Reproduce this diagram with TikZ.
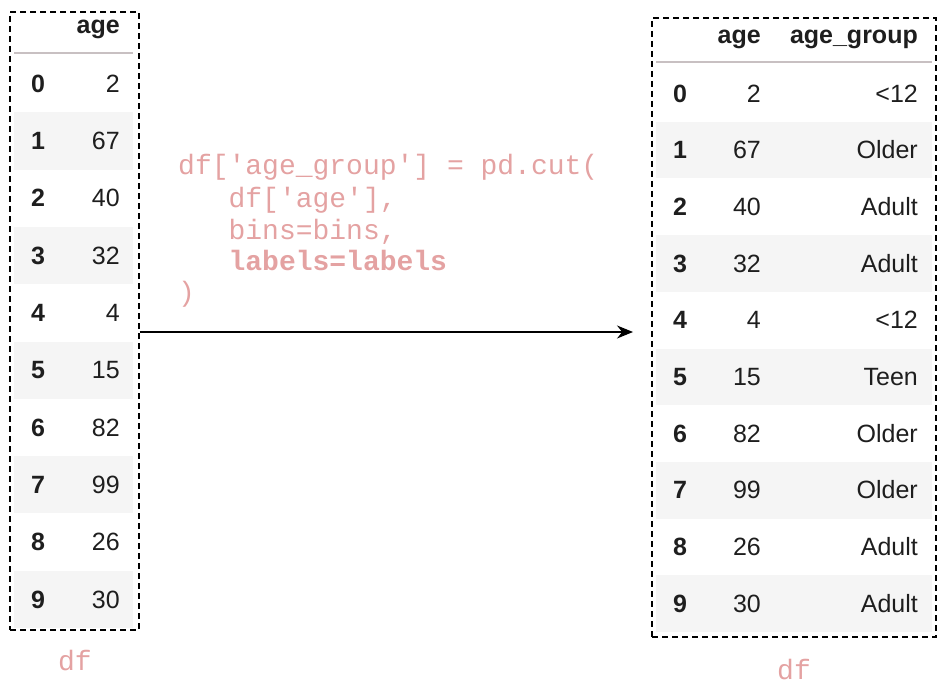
\documentclass[tikz,border=0pt]{standalone}
\usepackage{fontspec}
\usetikzlibrary{arrows.meta}
\newfontfamily\tabfont{Liberation Sans}
\newfontfamily\codefont{Liberation Mono}
\definecolor{codepink}{RGB}{228,162,162}
\definecolor{txt}{RGB}{30,30,30}
\definecolor{rowshade}{RGB}{245,245,245}
\definecolor{rulegray}{RGB}{200,192,194}
\tikzset{
  dbox/.style={draw=black, line width=1.6pt, dash pattern=on 6pt off 4pt, inner sep=0pt, fill=none},
  rowfill/.style={fill=rowshade, draw=none},
  hdr/.style={font=\tabfont\fontsize{25}{28}\selectfont\bfseries, text=txt, inner sep=0pt, anchor=base east},
  idx/.style={font=\tabfont\fontsize{25}{28}\selectfont\bfseries, text=txt, inner sep=0pt, anchor=base},
  val/.style={font=\tabfont\fontsize{25}{28}\selectfont, text=txt, inner sep=0pt, anchor=base east},
  code/.style={font=\codefont\fontsize{28}{32}\selectfont, text=codepink, inner sep=0pt, anchor=base west},
  dflab/.style={font=\codefont\fontsize{28}{32}\selectfont, text=codepink, inner sep=0pt, anchor=base},
  hrule/.style={draw=rulegray, line width=1.5pt},
  conn/.style={draw=black, line width=1.4pt, -{Stealth[length=16pt,width=13pt]}}
}
\begin{document}
\begin{tikzpicture}[x=1pt,y=-1pt]
\useasboundingbox (0,0) rectangle (950,698);
% ---------- left table ----------
\foreach \i in {1,3,5,7,9}{
  \path[rowfill] (14,{55+57.3*\i}) rectangle (133,{55+57.3*(\i+1)});
}
\node[hdr] (lhage) at (120,34) {age};
\draw[hrule] (14,53) -- (133,53);
\foreach \v [count=\n from 0] in {2,67,40,32,4,15,82,99,26,30}{
  \node[idx] (li\n) at (38,{83.65+57.3*\n+8.7}) {\n};
  \node[val] (lv\n) at (120,{83.65+57.3*\n+8.7}) {\v};
}
\node[dbox, minimum width=129pt, minimum height=618pt] (lt) at (74.5,321) {};
\node[dflab] (ldf) at (75,670) {df};
% ---------- right table ----------
\foreach \i in {1,3,5,7,9}{
  \path[rowfill] (656,{65+56.7*\i}) rectangle (932,{65+56.7*(\i+1)});
}
\node[hdr] (rhage) at (761,44) {age};
\node[hdr] (rhgrp) at (918,44) {age\_group};
\draw[hrule] (656,62) -- (932,62);
\foreach \v/\g [count=\n from 0] in {2/<12,67/Older,40/Adult,32/Adult,4/<12,15/Teen,82/Older,99/Older,26/Adult,30/Adult}{
  \node[idx] (ri\n) at (680,{93.35+56.7*\n+8.7}) {\n};
  \node[val] (rv\n) at (761,{93.35+56.7*\n+8.7}) {\v};
  \node[val] (rg\n) at (918,{93.35+56.7*\n+8.7}) {\g};
}
\node[dbox, minimum width=284pt, minimum height=619pt] (rt) at (794,327.5) {};
\node[dflab] (rdf) at (794,679) {df};
% ---------- code ----------
\node[code] (c1) at (178,175) {df[\textquotesingle age\_group\textquotesingle] = pd.cut(};
\node[code] (c2) at (228.4,207) {df[\textquotesingle age\textquotesingle],};
\node[code] (c3) at (228.4,239) {bins=bins,};
\node[code, font=\codefont\fontsize{28}{32}\selectfont\bfseries] (c4) at (228.4,270) {labels=labels};
\node[code] (c5) at (178,301) {)};
% ---------- arrow ----------
\coordinate (arrtip) at (633,332);
\draw[conn] (lt.east |- arrtip) -- (arrtip);
\end{tikzpicture}
\end{document}
